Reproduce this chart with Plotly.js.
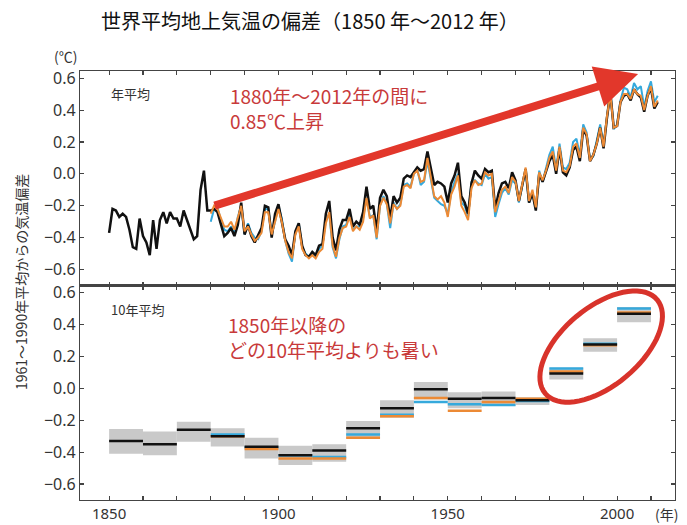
<!DOCTYPE html>
<html>
<head>
<meta charset="utf-8">
<script src="https://cdn.plot.ly/plotly-3.0.1.min.js"></script>
<style>html,body{margin:0;padding:0;background:#fff;}#chart{width:687px;height:525px;}</style>
</head>
<body>
<div id="chart"></div>
<script>
// ---------- DATA ----------
const annualStartBlack = 1850;
const annualBlack = [
 -0.37,-0.22,-0.23,-0.27,-0.25,-0.27,-0.35,-0.46,-0.47,-0.28,
 -0.39,-0.43,-0.51,-0.29,-0.47,-0.29,-0.24,-0.31,-0.24,-0.28,
 -0.28,-0.33,-0.23,-0.29,-0.36,-0.41,-0.39,-0.10, 0.02,-0.23,
 -0.23,-0.22,-0.24,-0.32,-0.39,-0.37,-0.34,-0.39,-0.32,-0.18,
 -0.38,-0.32,-0.39,-0.43,-0.38,-0.34,-0.20,-0.21,-0.40,-0.25,
 -0.19,-0.29,-0.41,-0.45,-0.51,-0.36,-0.31,-0.45,-0.51,-0.52,
 -0.49,-0.51,-0.45,-0.44,-0.25,-0.17,-0.40,-0.48,-0.35,-0.29,
 -0.29,-0.22,-0.33,-0.30,-0.32,-0.24,-0.08,-0.22,-0.20,-0.36,
 -0.15,-0.10,-0.14,-0.28,-0.14,-0.18,-0.15,-0.03,-0.01,-0.02,
  0.01, 0.04, 0.02, 0.03, 0.14, 0.03,-0.07,-0.05,-0.06,-0.08,
 -0.18,-0.06,-0.01, 0.07,-0.14,-0.18,-0.25,-0.06, 0.02,-0.01,
 -0.03, 0.03, 0.01, 0.02,-0.22,-0.12,-0.06,-0.05,-0.09, 0.01,
 -0.04,-0.17,-0.07, 0.03,-0.18,-0.12,-0.23, 0.00,-0.05, 0.01,
  0.08, 0.12, 0.00, 0.16, 0.01,-0.01, 0.04, 0.15, 0.17, 0.08,
  0.28, 0.24, 0.08, 0.12, 0.19, 0.29, 0.16, 0.35, 0.51, 0.29,
  0.30, 0.45, 0.49, 0.50, 0.46, 0.53, 0.50, 0.48, 0.39, 0.49,
  0.54, 0.41, 0.45
];
const annualStartColor = 1880;
const annualOrange = [
 -0.25,-0.20,-0.22,-0.28,-0.33,-0.33,-0.30,-0.35,-0.28,-0.20,
 -0.36,-0.33,-0.38,-0.42,-0.40,-0.37,-0.24,-0.24,-0.38,-0.29,
 -0.22,-0.30,-0.42,-0.49,-0.53,-0.38,-0.33,-0.47,-0.51,-0.53,
 -0.51,-0.53,-0.49,-0.47,-0.31,-0.24,-0.45,-0.52,-0.40,-0.34,
 -0.33,-0.27,-0.36,-0.33,-0.35,-0.30,-0.15,-0.28,-0.26,-0.40,
 -0.20,-0.15,-0.19,-0.31,-0.19,-0.22,-0.20,-0.08,-0.07,-0.09,
  0.00, 0.02,-0.05,-0.04, 0.10,-0.02,-0.14,-0.16,-0.14,-0.18,
 -0.27,-0.13,-0.08,-0.01,-0.20,-0.24,-0.29,-0.09,-0.04,-0.07,
 -0.06, 0.01,-0.01, 0.00,-0.24,-0.17,-0.10,-0.08,-0.12,-0.02,
 -0.05,-0.17,-0.07, 0.04,-0.17,-0.10,-0.21, 0.01,-0.04, 0.02,
  0.10, 0.14, 0.02, 0.17, 0.02, 0.01, 0.05, 0.17, 0.19, 0.10,
  0.29, 0.25, 0.08, 0.12, 0.19, 0.29, 0.17, 0.36, 0.50, 0.29,
  0.30, 0.45, 0.50, 0.50, 0.47, 0.53, 0.50, 0.49, 0.40, 0.49,
  0.55, 0.42, 0.46
];
const annualBlue = [
 -0.30,-0.22,-0.21,-0.29,-0.35,-0.36,-0.33,-0.38,-0.27,-0.20,
 -0.38,-0.31,-0.37,-0.40,-0.41,-0.36,-0.22,-0.22,-0.38,-0.30,
 -0.20,-0.28,-0.42,-0.50,-0.55,-0.37,-0.31,-0.46,-0.50,-0.52,
 -0.50,-0.52,-0.47,-0.45,-0.29,-0.25,-0.46,-0.53,-0.41,-0.33,
 -0.32,-0.25,-0.35,-0.33,-0.33,-0.28,-0.15,-0.27,-0.26,-0.41,
 -0.20,-0.14,-0.19,-0.34,-0.18,-0.22,-0.19,-0.07,-0.06,-0.08,
  0.00, 0.03,-0.07,-0.05, 0.08,-0.04,-0.15,-0.17,-0.19,-0.20,
 -0.25,-0.12,-0.05, 0.00,-0.18,-0.20,-0.27,-0.05,-0.04,-0.06,
 -0.07, 0.00,-0.03,-0.02,-0.27,-0.19,-0.12,-0.09,-0.13,-0.04,
 -0.06,-0.18,-0.08, 0.03,-0.18,-0.12,-0.22, 0.02,-0.05, 0.03,
  0.12, 0.17, 0.03, 0.19, 0.04, 0.03, 0.07, 0.20, 0.22, 0.12,
  0.31, 0.26, 0.09, 0.11, 0.21, 0.31, 0.19, 0.37, 0.52, 0.28,
  0.31, 0.46, 0.54, 0.53, 0.48, 0.57, 0.53, 0.55, 0.42, 0.52,
  0.58, 0.45, 0.49
];

const decades = [1850,1860,1870,1880,1890,1900,1910,1920,1930,1940,1950,1960,1970,1980,1990,2000];
const decadalBlack = [-0.33,-0.35,-0.26,-0.30,-0.366,-0.42,-0.39,-0.25,-0.125,-0.005,-0.065,-0.06,-0.075,0.093,0.275,0.468];
const decadalLow   = [-0.41,-0.42,-0.335,-0.365,-0.44,-0.48,-0.46,-0.315,-0.185,-0.07,-0.125,-0.11,-0.105,0.055,0.23,0.415];
const decadalHigh  = [-0.255,-0.27,-0.21,-0.25,-0.31,-0.36,-0.35,-0.205,-0.075,0.04,-0.025,-0.02,-0.055,0.13,0.315,0.51];
const decadesColor = [1880,1890,1900,1910,1920,1930,1940,1950,1960,1970,1980,1990,2000];
const decadalOrange = [-0.30,-0.38,-0.44,-0.44,-0.31,-0.175,-0.06,-0.14,-0.085,-0.065,0.105,0.27,0.475];
const decadalBlue   = [-0.29,-0.37,-0.42,-0.43,-0.29,-0.165,-0.085,-0.10,-0.105,-0.08,0.125,0.28,0.50];

const xTickVals = [1850,1860,1870,1880,1890,1900,1910,1920,1930,1940,1950,1960,1970,1980,1990,2000,2010];
const xTickText = ['1850','','','','','1900','','','','','1950','','','','','2000',''];
const yTickVals = [-0.6,-0.4,-0.2,0,0.2,0.4,0.6];
const yTickText = ['\u22120.6','\u22120.4','\u22120.2','0.0','0.2','0.4','0.6'];

const titleText = '世界平均地上気温の偏差（1850 年～2012 年）';
const yTitleText = '1961～1990年平均からの気温偏差';
const note1 = '1880年～2012年の間に<br>0.85℃上昇';
const note2 = '1850年以降の<br>どの10年平均よりも暑い';

// ---------- BUILD ----------
const yearsOf = (start, arr) => arr.map((_, i) => start + i);
const segX = (starts) => { const o = []; starts.forEach(d => { o.push(d, d + 10, null); }); return o; };
const segY = (vals) => { const o = []; vals.forEach(v => { o.push(v, v, null); }); return o; };

const BLACK = '#111111', ORANGE = '#ec8a35', BLUE = '#35a9dc', RED = '#d8332b';
const XR = [1841.4, 2017.1], YR = [-0.70, 0.645];

const traces = [
  {x: yearsOf(annualStartColor, annualBlue), y: annualBlue, xaxis:'x', yaxis:'y', mode:'lines', line:{color:BLUE, width:2}},
  {x: yearsOf(annualStartBlack, annualBlack), y: annualBlack, xaxis:'x', yaxis:'y', mode:'lines', line:{color:BLACK, width:2.5}},
  {x: yearsOf(annualStartColor, annualOrange), y: annualOrange, xaxis:'x', yaxis:'y', mode:'lines', line:{color:ORANGE, width:2}},
  {type:'bar', x: decades.map(d => d + 5), base: decadalLow, y: decadalHigh.map((h, i) => h - decadalLow[i]),
   width: 10, xaxis:'x2', yaxis:'y2', marker:{color:'#c9c9c9', line:{width:0}}},
  {x: segX(decadesColor), y: segY(decadalBlue), xaxis:'x2', yaxis:'y2', mode:'lines', line:{color:BLUE, width:2.5}},
  {x: segX(decadesColor), y: segY(decadalOrange), xaxis:'x2', yaxis:'y2', mode:'lines', line:{color:ORANGE, width:2.5}},
  {x: segX(decades), y: segY(decadalBlack), xaxis:'x2', yaxis:'y2', mode:'lines', line:{color:BLACK, width:2.5}}
];

// plot geometry (px) for the decorative ellipse
const W = 687, H = 525, ML = 80, MR = 12, MT = 71, MB = 25;
const PW = W - ML - MR, PH = H - MT - MB;
const pxPerYear = PW / (XR[1] - XR[0]);
const pxPerUnit = (PH / 2) / (YR[1] - YR[0]);
const ellCx = 1995.3, ellCy = 0.262, ellA = 73, ellB = 39, ellAng = 40 * Math.PI / 180;
let ep = '';
for (let k = 0; k <= 72; k++) {
  const t = k / 72 * 2 * Math.PI;
  const u = ellA * Math.cos(t), v = ellB * Math.sin(t);
  const dx = u * Math.cos(ellAng) - v * Math.sin(ellAng);
  const dy = u * Math.sin(ellAng) + v * Math.cos(ellAng);
  ep += (k === 0 ? 'M' : 'L') + (ellCx + dx / pxPerYear).toFixed(3) + ',' + (ellCy + dy / pxPerUnit).toFixed(4);
}
ep += 'Z';

const tickFont = {family:'Noto Sans, sans-serif', size:16, color:'#333'};
const axCommon = {showgrid:false, zeroline:false, showline:true, linecolor:'#444', linewidth:1.1,
                  mirror:'ticks', ticks:'inside', ticklen:4, tickcolor:'#444', tickwidth:1.1, tickfont:tickFont};
const jp = 'Noto Sans CJK JP, sans-serif';
const px = (xpx) => (xpx - ML) / PW;
const py = (ypx) => 1 - (ypx - MT) / PH;

const layout = {
  width: W, height: H,
  margin: {l:ML, r:MR, t:MT, b:MB, pad:0},
  paper_bgcolor:'#fff', plot_bgcolor:'#fff',
  showlegend:false, barmode:'overlay',
  title: {text: titleText, font:{family:jp, size:20, color:'#111'}, xref:'container', x: 310 / W, xanchor:'center',
          yref:'container', y: 1 - 22 / H, yanchor:'middle'},
  xaxis: Object.assign({}, axCommon, {domain:[0,1], anchor:'y', range:XR, tickmode:'array', tickvals:xTickVals, showticklabels:false}),
  yaxis: Object.assign({}, axCommon, {domain:[0.5,1], anchor:'x', range:YR, tickmode:'array', tickvals:yTickVals, ticktext:yTickText}),
  xaxis2: Object.assign({}, axCommon, {domain:[0,1], anchor:'y2', range:XR, tickmode:'array', tickvals:xTickVals, ticktext:xTickText,
                                       tickfont:{family:'Noto Sans, sans-serif', size:15, color:'#333'}}),
  yaxis2: Object.assign({}, axCommon, {domain:[0,0.5], anchor:'x2', range:YR, tickmode:'array', tickvals:yTickVals, ticktext:yTickText}),
  shapes: [
    {type:'path', xref:'x2', yref:'y2', path: ep, line:{color:RED, width:5}, fillcolor:'rgba(0,0,0,0)'}
  ],
  annotations: [
    {xref:'x', yref:'y', axref:'x', ayref:'y', x:2006.2, y:0.626, ax:1880.7, ay:-0.202, text:'',
     showarrow:true, arrowhead:2, arrowsize:1.05, arrowwidth:8, arrowcolor:'#e2372b', standoff:0},
    {xref:'paper', yref:'paper', x:px(228), y:py(80), xanchor:'left', yanchor:'top', align:'left',
     text: note1, showarrow:false, font:{family:jp, size:19, color:'#c83a3a'}},
    {xref:'paper', yref:'paper', x:px(226), y:py(309), xanchor:'left', yanchor:'top', align:'left',
     text: note2, showarrow:false, font:{family:jp, size:19, color:'#c83a3a'}},
    {xref:'paper', yref:'paper', x:px(109), y:py(82), xanchor:'left', yanchor:'top',
     text:'年平均', showarrow:false, font:{family:jp, size:13, color:'#333'}},
    {xref:'paper', yref:'paper', x:px(109), y:py(298), xanchor:'left', yanchor:'top',
     text:'10年平均', showarrow:false, font:{family:jp, size:13, color:'#333'}},
    {xref:'paper', yref:'paper', x:px(65), y:py(56), xanchor:'center', yanchor:'middle',
     text:'(℃)', showarrow:false, font:{family:jp, size:14, color:'#333'}},
    {xref:'paper', yref:'paper', x:px(21), y:py(282), xanchor:'center', yanchor:'middle',
     text: yTitleText, textangle:-90, showarrow:false, font:{family:jp, size:14, color:'#333'}},
    {xref:'paper', yref:'paper', x:px(666), y:py(514), xanchor:'center', yanchor:'middle',
     text:'(年)', showarrow:false, font:{family:jp, size:14, color:'#333'}}
  ]
};

Plotly.newPlot('chart', traces, layout, {displayModeBar:false, staticPlot:true});
</script>
</body>
</html>
